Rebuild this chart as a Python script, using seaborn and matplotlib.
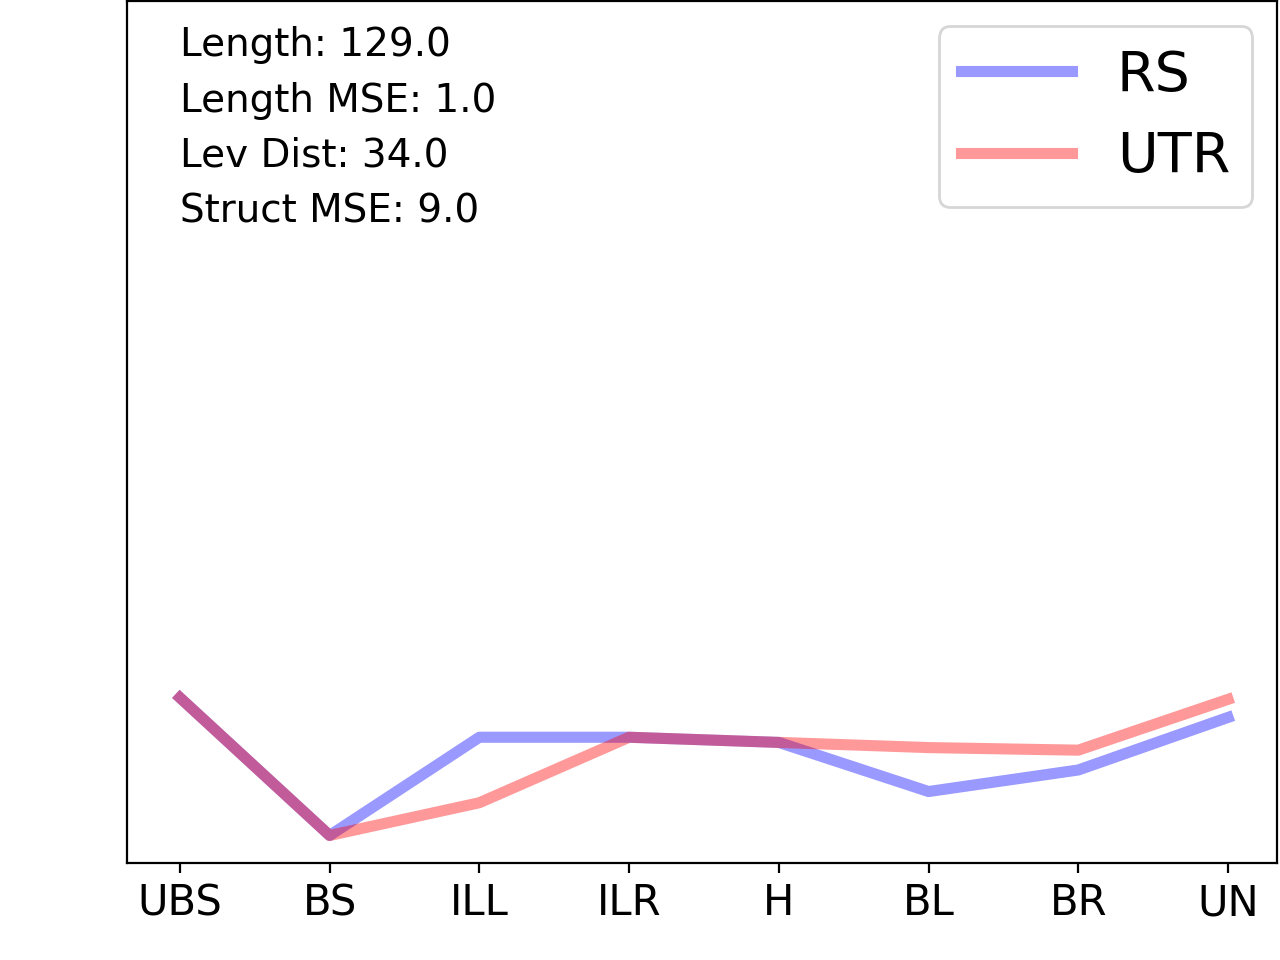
import matplotlib
matplotlib.use("Agg")
import matplotlib.pyplot as plt
import pandas as pd
import seaborn as sns

positions = ["UBS", "BS", "ILL", "ILR", "H", "BL", "BR", "UN"]
rs_values = [19.2, 3.2, 14.6, 14.6, 14.0, 8.3, 10.8, 16.9]
utr_values = [19.2, 3.2, 7.0, 14.6, 14.0, 13.4, 13.1, 19.0]
series_names = ["RS", "UTR"]
stats_text = ["Length: 129.0", "Length MSE: 1.0", "Lev Dist: 34.0", "Struct MSE: 9.0"]

df = pd.DataFrame({
    "pos": positions * 2,
    "value": rs_values + utr_values,
    "series": [series_names[0]] * len(positions) + [series_names[1]] * len(positions),
})

fig, ax = plt.subplots(figsize=(6.4, 4.8), dpi=200)
fig.subplots_adjust(left=0.0996, right=0.998, bottom=0.101, top=0.9985)

sns.lineplot(data=df, x="pos", y="value", hue="series", sort=False,
             palette={"RS": "blue", "UTR": "red"}, alpha=0.4, linewidth=4,
             legend=False, ax=ax)

ax.set_xlim(-0.35, 7.33)
ax.set_ylim(0, 100)
ax.set_yticks([])
ax.set_xlabel("")
ax.set_ylabel("")
ax.tick_params(axis="x", labelsize=15)

for i, line in enumerate(stats_text):
    ax.text(0.046, 0.9365 - 0.0643 * i, line, transform=ax.transAxes,
            fontsize=14, va="baseline", ha="left")

ax.legend(ax.lines[:2], series_names, loc="upper right", fontsize=20,
          borderaxespad=0.45)

fig.savefig("out.png", dpi=200)
